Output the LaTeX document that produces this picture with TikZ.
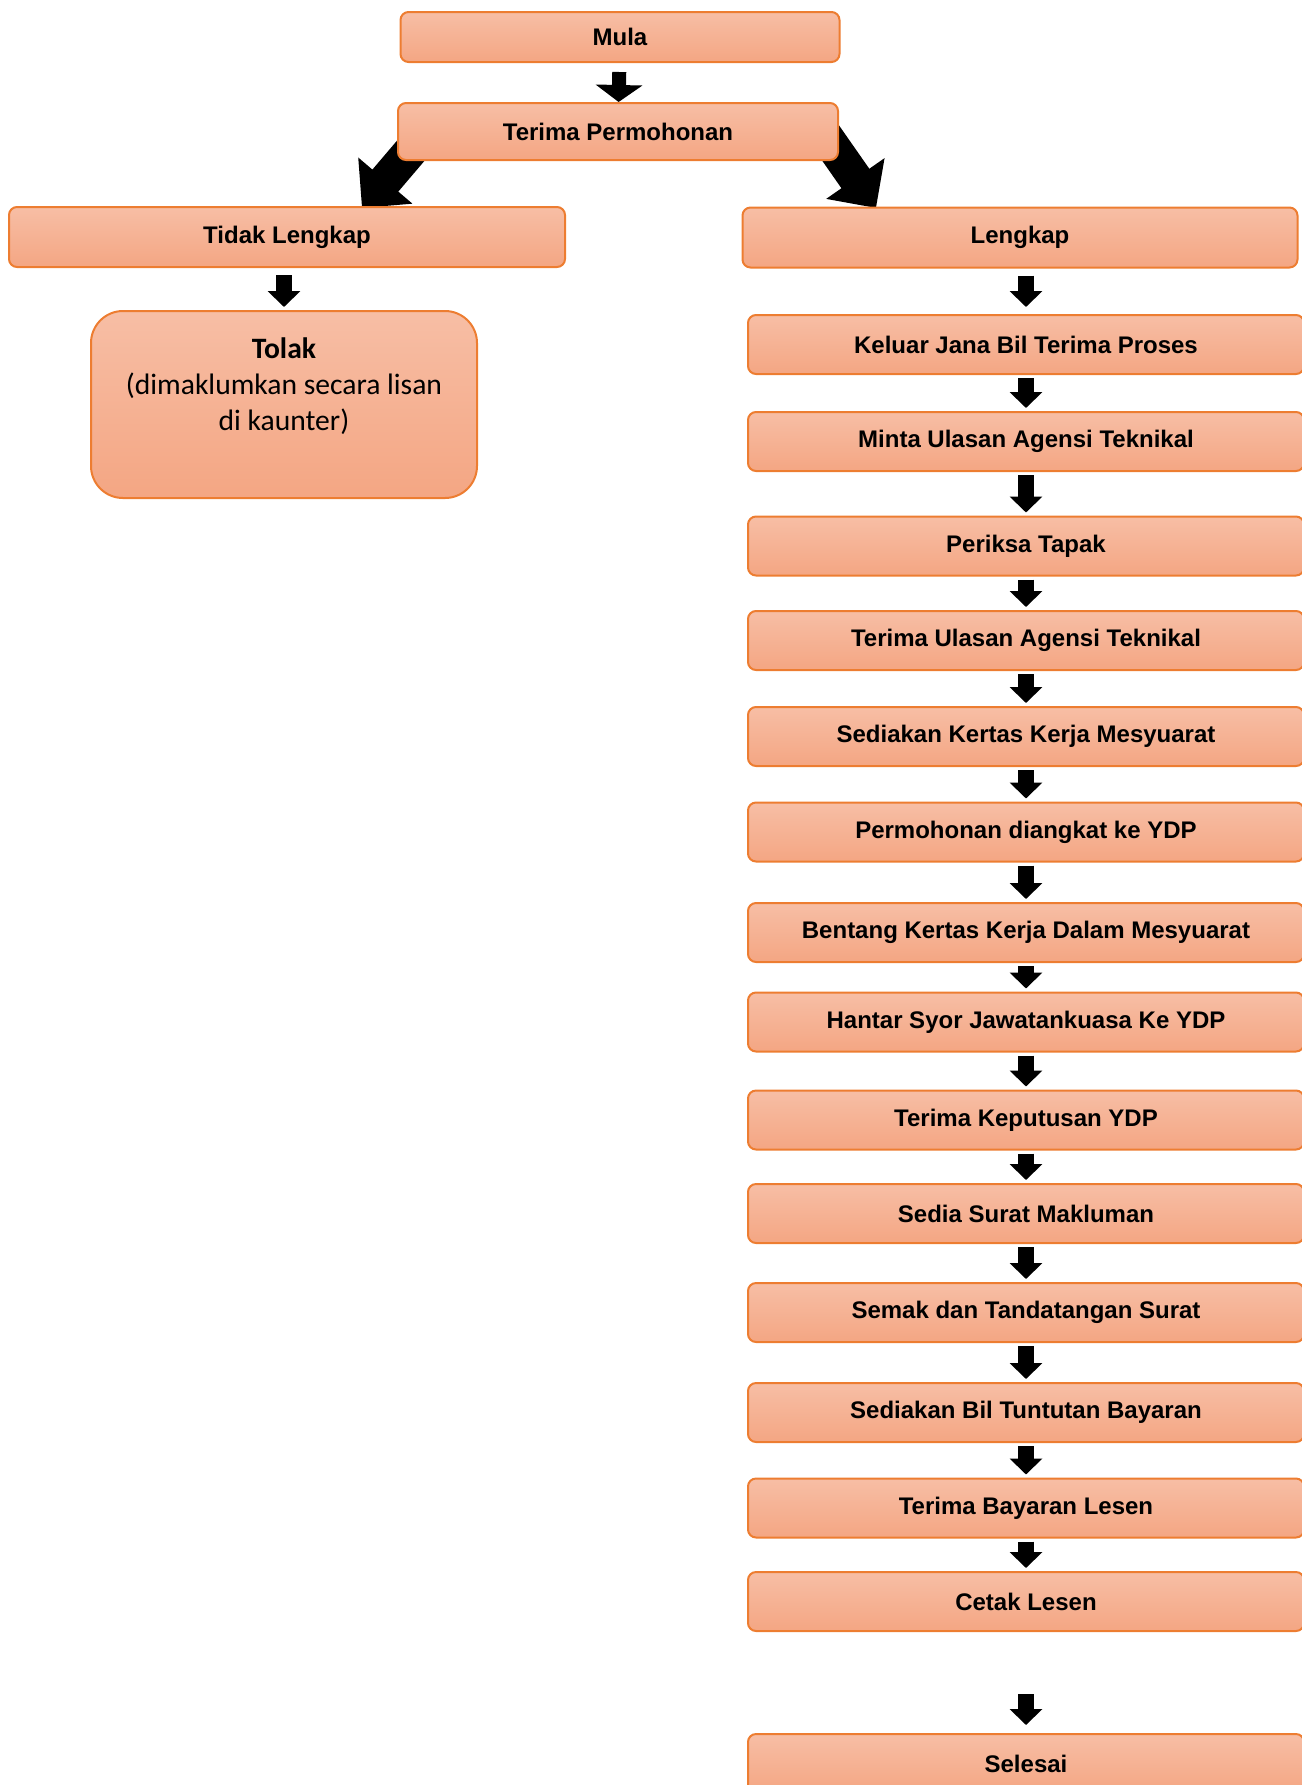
\documentclass[tikz,border=0pt]{standalone}
\usepackage{fontspec}
\setmainfont{Liberation Sans}
\newfontfamily\calibri{Carlito}
\usetikzlibrary{arrows.meta}
\definecolor{boxtop}{RGB}{247,190,165}
\definecolor{boxbottom}{RGB}{244,166,131}
\definecolor{boxline}{RGB}{237,125,49}
\pgfdeclarelayer{background}
\pgfsetlayers{background,main}
\tikzstyle{process} = [rectangle, rounded corners=4pt, minimum width=278pt, minimum height=29.5pt, text centered, draw=boxline, line width=1pt, top color=boxtop, bottom color=boxbottom, font=\fontsize{12}{14}\selectfont\bfseries]
\tikzstyle{startstop} = [process, minimum width=219.5pt, minimum height=25pt]
\tikzstyle{reject} = [process, rounded corners=16pt, minimum width=193pt, minimum height=93.5pt, align=center, font=\calibri\fontsize{14.8}{18}\selectfont]
\tikzstyle{arrow} = [line width=8pt, -{Triangle[width=16pt,length=8pt]}, shorten <=1.5pt, shorten >=1.5pt]
\tikzstyle{bigarrow} = [line width=7pt, -{Triangle[width=23pt,length=8.5pt]}, shorten <=4.5pt]
\tikzstyle{fatarrow} = [line width=17pt, -{Triangle[width=34.5pt,length=18pt]}]

\begin{document}
\begin{tikzpicture}[node distance=48.5pt]
\useasboundingbox (0,0) rectangle (651pt,-892.5pt);

% Nodes
\node (mula) [startstop] at (310pt,-18.5pt) {Mula};
\node (terima) [startstop, below of=mula, yshift=1.25pt, xshift=-1pt, minimum width=220pt, minimum height=28.5pt] {Terima Permohonan};
\node (tidak) [process, below of=terima, xshift=-165.5pt, yshift=-4.25pt, minimum height=30pt] {Tidak Lengkap};
\node (lengkap) [process, below of=terima, xshift=201pt, yshift=-4.5pt, minimum width=277.5pt, minimum height=30pt] {Lengkap};
\node (tolak) [reject, below of=tidak, xshift=-1.5pt, yshift=-35.25pt] {\textbf{Tolak}\\(dimaklumkan secara lisan\\di kaunter)\\[2pt]\mbox{}};
\node (keluar) [process, below of=lengkap, xshift=3pt, yshift=-5pt] {Keluar Jana Bil Terima Proses};
\node (minta) [process, below of=keluar] {Minta Ulasan Agensi Teknikal};
\node (periksa) [process, below of=minta, yshift=-3.75pt] {Periksa Tapak};
\node (ulasan) [process, below of=periksa, yshift=1.25pt] {Terima Ulasan Agensi Teknikal};
\node (kertas) [process, below of=ulasan, yshift=0.5pt] {Sediakan Kertas Kerja Mesyuarat};
\node (angkat) [process, below of=kertas, yshift=0.75pt] {Permohonan diangkat ke YDP};
\node (bentang) [process, below of=angkat, yshift=-1.75pt] {Bentang Kertas Kerja Dalam Mesyuarat};
\node (hantar) [process, below of=bentang, yshift=3.75pt] {Hantar Syor Jawatankuasa Ke YDP};
\node (keputusan) [process, below of=hantar, yshift=-0.5pt] {Terima Keputusan YDP};
\node (makluman) [process, below of=keputusan, yshift=1.75pt] {Sedia Surat Makluman};
\node (semak) [process, below of=makluman, yshift=-1pt] {Semak dan Tandatangan Surat};
\node (bil) [process, below of=semak, yshift=-1.5pt] {Sediakan Bil Tuntutan Bayaran};
\node (bayaran) [process, below of=bil, yshift=0.75pt] {Terima Bayaran Lesen};
\node (cetak) [process, below of=bayaran, yshift=1.75pt] {Cetak Lesen};
\node (selesai) [process, below of=cetak, yshift=-32.5pt] {Selesai};

% Arrows
\draw [bigarrow] (mula) -- (terima);
\begin{pgfonlayer}{background}
\draw [fatarrow] ([xshift=-96.5pt,yshift=13.5pt]terima.south) -- ([xshift=37.5pt,yshift=-1pt]tidak.north);
\draw [fatarrow] ([xshift=100pt,yshift=18pt]terima.south) -- ([xshift=-72pt,yshift=-0.75pt]lengkap.north);
\end{pgfonlayer}
\draw [arrow, shorten <=3.5pt] (tidak.south -| tolak.north) -- (tolak);
\draw [arrow, shorten <=3.5pt, shorten >=3.5pt] (keluar.north |- lengkap.south) -- (keluar);
\draw [arrow] (keluar) -- (minta);
\draw [arrow] (minta) -- (periksa);
\draw [arrow] (periksa) -- (ulasan);
\draw [arrow] (ulasan) -- (kertas);
\draw [arrow] (kertas) -- (angkat);
\draw [arrow] (angkat) -- (bentang);
\draw [arrow] (bentang) -- (hantar);
\draw [arrow] (hantar) -- (keputusan);
\draw [arrow] (keputusan) -- (makluman);
\draw [arrow] (makluman) -- (semak);
\draw [arrow] (semak) -- (bil);
\draw [arrow] (bil) -- (bayaran);
\draw [arrow] (bayaran) -- (cetak);
\draw [arrow, shorten <=31pt, shorten >=4pt] (cetak) -- (selesai);

\end{tikzpicture}
\end{document}
